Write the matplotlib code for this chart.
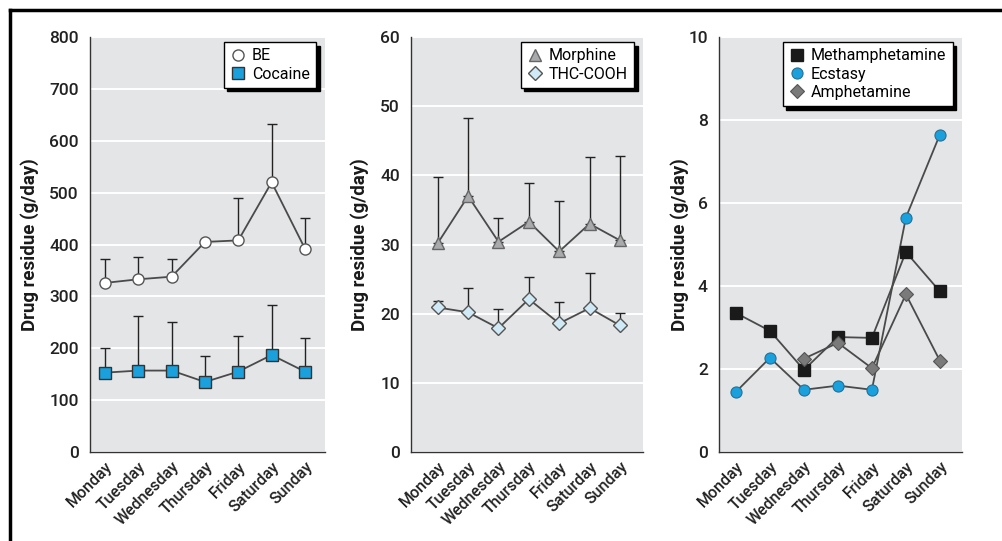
import matplotlib
matplotlib.use("Agg")
import matplotlib.pyplot as plt
import numpy as np
from matplotlib.lines import Line2D

plt.rcParams['font.family'] = ['Roboto', 'DejaVu Sans']

days = ["Monday", "Tuesday", "Wednesday", "Thursday", "Friday", "Saturday", "Sunday"]

# panel 1
be = [326, 333, 338, 405, 408, 520, 392]
be_err = [373, 375, 373, np.nan, 489, 633, 452]
cocaine = [153, 157, 157, 135, 155, 187, 155]
cocaine_err = [200, 262, 250, 185, 223, 283, 220]

# panel 2
morphine = [30.2, 37.0, 30.4, 33.3, 29.0, 33.0, 30.6]
morphine_err = [39.7, 48.3, 33.8, 38.9, 36.3, 42.7, 42.8]
thc = [20.9, 20.2, 17.9, 22.1, 18.6, 20.8, 18.3]
thc_err = [21.8, 23.7, 20.7, 25.3, 21.7, 25.9, 20.1]

# panel 3
meth = [3.35, 2.92, 1.98, 2.77, 2.75, 4.82, 3.87]
ecstasy = [1.45, 2.27, 1.50, 1.60, 1.50, 5.65, 7.65]
amph = [np.nan, np.nan, 2.25, 2.63, 2.02, 3.80, 2.20]

BG = '#e4e5e7'
LINE = '#4a4a4a'
BLUE = '#1aa0dc'

fig = plt.figure(figsize=(10.03, 5.41), dpi=100)

def style(ax, ymax, step, xl, labelx):
    ax.set_facecolor(BG)
    ax.set_ylim(0, ymax)
    ax.set_yticks(np.arange(0, ymax + step / 2, step))
    ax.set_xlim(*xl)
    ax.set_xticks(range(len(days)))
    ax.set_xticklabels(days, rotation=45, ha='right', rotation_mode='anchor', fontsize=11.5,
                       color='#222222', fontweight='medium')
    for t in ax.get_yticklabels():
        t.set_fontweight('medium')
    ax.tick_params(axis='y', length=0, labelsize=12.5, pad=8, labelcolor='#222222')
    ax.tick_params(axis='x', length=0, pad=5)
    ax.grid(axis='y', color='white', linewidth=1.4)
    ax.set_axisbelow(True)
    for s in ['top', 'right']:
        ax.spines[s].set_visible(False)
    for s in ['left', 'bottom']:
        ax.spines[s].set_color('#333333')
        ax.spines[s].set_linewidth(1.0)
    ax.set_ylabel('Drug residue (g/day)', fontsize=13.5, fontweight='bold',
                  color='#1a1a1a', va='center')
    ax.yaxis.set_label_coords(labelx, 0.5)

def upper_err(ax, x, y, top):
    y = np.array(y, dtype=float)
    top = np.array(top, dtype=float)
    ax.errorbar(x, y, yerr=[np.zeros_like(y), top - y], fmt='none', ecolor='#222222',
                elinewidth=1.0, capsize=3.5, capthick=1.0, zorder=2)

def legend(ax):
    leg = ax.legend(loc='upper right', frameon=True, fancybox=False, fontsize=11.5,
                    handletextpad=0.35, handlelength=1.0, borderpad=0.4, labelspacing=0.2,
                    borderaxespad=0.0,
                    shadow={'color': 'black', 'alpha': 1.0, 'ox': 2.5, 'oy': -2.5},
                    bbox_to_anchor=(0.962, 0.988))
    leg.get_frame().set_edgecolor('black')
    leg.get_frame().set_linewidth(1.0)
    return leg

x = np.arange(len(days))

# panel 1
ax1 = fig.add_axes([0.0897, 0.1645, 0.2343, 0.767])
style(ax1, 800, 100, (-0.45, 6.6), -0.255)
upper_err(ax1, x, be, be_err)
upper_err(ax1, x, cocaine, cocaine_err)
ax1.plot(x, be, color=LINE, lw=1.3, zorder=3)
ax1.plot(x, cocaine, color=LINE, lw=1.3, zorder=3)
ax1.plot(x, be, 'o', ms=8, mfc='white', mec='#555555', mew=1.0, zorder=4, label='BE')
ax1.plot(x, cocaine, 's', ms=8, mfc=BLUE, mec='#333333', mew=1.0, zorder=4, label='Cocaine')
legend(ax1)

# panel 2
ax2 = fig.add_axes([0.4098, 0.1645, 0.2313, 0.767])
style(ax2, 60, 10, (-0.88, 6.76), -0.22)
upper_err(ax2, x, morphine, morphine_err)
upper_err(ax2, x, thc, thc_err)
ax2.plot(x, morphine, color=LINE, lw=1.3, zorder=3)
ax2.plot(x, thc, color=LINE, lw=1.3, zorder=3)
ax2.plot(x, morphine, '^', ms=9, mfc='#a9aaac', mec='#666666', mew=1.0, zorder=4, label='Morphine')
ax2.plot(x, thc, 'D', ms=7, mfc='#cfeaf6', mec='#555555', mew=1.0, zorder=4, label='THC-COOH')
legend(ax2)

# panel 3
ax3 = fig.add_axes([0.7168, 0.1645, 0.2423, 0.767])
style(ax3, 10, 2, (-0.5, 6.65), -0.16)
ax3.plot(x, meth, color=LINE, lw=1.3, zorder=3)
ax3.plot(x, ecstasy, color=LINE, lw=1.3, zorder=3)
ax3.plot(x, amph, color=LINE, lw=1.3, zorder=3)
ax3.plot(x, meth, 's', ms=8, mfc='#1a1a1a', mec='#1a1a1a', zorder=4, label='Methamphetamine')
ax3.plot(x, ecstasy, 'o', ms=8, mfc=BLUE, mec='#2a6f90', mew=0.8, zorder=4, label='Ecstasy')
ax3.plot(x, amph, 'D', ms=7, mfc='#7a7a7a', mec='#555555', mew=0.8, zorder=4, label='Amphetamine')
legend(ax3)

# outer frame of the figure
fig.add_artist(Line2D([10 / 1003, 1.0], [1 - 10 / 541, 1 - 10 / 541], color='black', lw=2.5,
                      transform=fig.transFigure))
fig.add_artist(Line2D([10 / 1003, 10 / 1003], [0, 1 - 10 / 541], color='black', lw=2.5,
                      transform=fig.transFigure))

fig.savefig('out.png', dpi=100, facecolor='white')
